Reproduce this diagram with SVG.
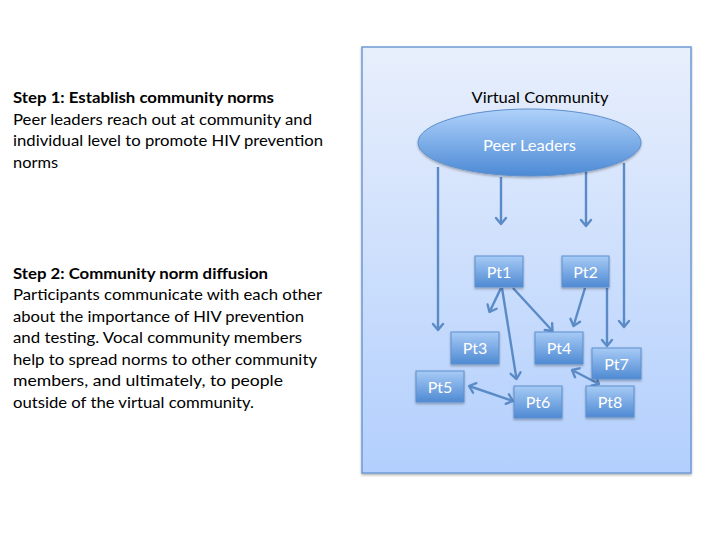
<svg xmlns="http://www.w3.org/2000/svg" width="720" height="540" viewBox="0 0 720 540">
<defs>
<linearGradient id="bg" x1="0" y1="0" x2="0" y2="1">
<stop offset="0" stop-color="#e8effc"/>
<stop offset="1" stop-color="#b2cffd"/>
</linearGradient>
<linearGradient id="nodeg" x1="0" y1="0" x2="0" y2="1">
<stop offset="0" stop-color="#a7cbf6"/>
<stop offset="1" stop-color="#4f8ad3"/>
</linearGradient>
<linearGradient id="ellg" x1="0" y1="0" x2="0" y2="1">
<stop offset="0" stop-color="#b0d2fb"/>
<stop offset="1" stop-color="#4c8ad5"/>
</linearGradient>
<filter id="sh" x="-10%" y="-10%" width="130%" height="140%">
<feDropShadow dx="0" dy="1.5" stdDeviation="1.2" flood-color="#000" flood-opacity="0.3"/>
</filter>
<marker id="ah" viewBox="-8 -7 10 14" refX="0" refY="0" markerWidth="10" markerHeight="14" markerUnits="userSpaceOnUse" orient="auto-start-reverse">
<path d="M-6,-5 L0,0 L-6,5" fill="none" stroke="#5b8bc7" stroke-width="2.4" stroke-linecap="round" stroke-linejoin="round"/>
</marker>
</defs>
<style>
.lt{font-family:Lato,"Liberation Sans",sans-serif;font-size:16px;fill:#000}
.b{font-weight:bold}
.nd{fill:url(#nodeg);stroke:#5d8fcd;stroke-width:1;filter:url(#sh)}
.nt{font-family:Lato,"Liberation Sans",sans-serif;font-size:16px;fill:#fff;text-anchor:middle}
.cn{stroke:#5b8bc7;stroke-width:2.4;fill:none;marker-end:url(#ah)}
.cb{marker-start:url(#ah)}
</style>
<g id="step1">
<text class="lt b" x="13" y="103" textLength="261" lengthAdjust="spacingAndGlyphs">Step 1: Establish community norms</text>
<text class="lt" x="13" y="124.5" textLength="299" lengthAdjust="spacingAndGlyphs">Peer leaders reach out at community and</text>
<text class="lt" x="13" y="146" textLength="310" lengthAdjust="spacingAndGlyphs">individual level to promote HIV prevention</text>
<text class="lt" x="13" y="167.5" textLength="45" lengthAdjust="spacingAndGlyphs">norms</text>
</g>
<g id="step2">
<text class="lt b" x="13" y="278.5" textLength="255" lengthAdjust="spacingAndGlyphs">Step 2: Community norm diffusion</text>
<text class="lt" x="13" y="300" textLength="309" lengthAdjust="spacingAndGlyphs">Participants communicate with each other</text>
<text class="lt" x="13" y="321.5" textLength="291" lengthAdjust="spacingAndGlyphs">about the importance of HIV prevention</text>
<text class="lt" x="13" y="343" textLength="289" lengthAdjust="spacingAndGlyphs">and testing. Vocal community members</text>
<text class="lt" x="13" y="364.5" textLength="304" lengthAdjust="spacingAndGlyphs">help to spread norms to other community</text>
<text class="lt" x="13" y="386" textLength="270" lengthAdjust="spacingAndGlyphs">members, and ultimately, to people</text>
<text class="lt" x="13" y="407.5" textLength="241" lengthAdjust="spacingAndGlyphs">outside of the virtual community.</text>
</g>
<g id="virtual-community">
<rect x="362" y="47" width="329" height="426" fill="url(#bg)" stroke="#6f9ad3" stroke-width="1.5" filter="url(#sh)"/>
<text class="lt" x="540" y="102.5" text-anchor="middle" textLength="137" lengthAdjust="spacingAndGlyphs">Virtual Community</text>
</g>
<g id="connectors">
<line class="cn" x1="438" y1="167" x2="438" y2="330"/>
<line class="cn" x1="501" y1="177" x2="501" y2="224"/>
<line class="cn" x1="586" y1="172" x2="586" y2="226"/>
<line class="cn" x1="624" y1="163" x2="624" y2="327"/>
<line class="cn" x1="501" y1="288" x2="489.5" y2="312"/>
<line class="cn" x1="513" y1="288" x2="552.5" y2="331"/>
<line class="cn" x1="502" y1="288" x2="516.5" y2="379"/>
<line class="cn" x1="585" y1="288" x2="573.5" y2="326"/>
<line class="cn" x1="607" y1="288" x2="607" y2="346"/>
<line class="cn cb" x1="469" y1="386" x2="513" y2="401"/>
<line class="cn cb" x1="572" y1="370" x2="599" y2="384"/>
</g>
<g id="peer-leaders">
<ellipse cx="529.5" cy="142.5" rx="111.5" ry="33.5" fill="url(#ellg)" stroke="#5d8fcd" stroke-width="1" filter="url(#sh)"/>
<text class="nt" x="529.5" y="151" textLength="93" lengthAdjust="spacingAndGlyphs">Peer Leaders</text>
</g>
<g id="pt1"><rect class="nd" x="475" y="256" width="48" height="31"/><text class="nt" x="499" y="277.5">Pt1</text></g>
<g id="pt2"><rect class="nd" x="562" y="256" width="47" height="31"/><text class="nt" x="585.5" y="277.5">Pt2</text></g>
<g id="pt3"><rect class="nd" x="451" y="332" width="48" height="32"/><text class="nt" x="475" y="354">Pt3</text></g>
<g id="pt4"><rect class="nd" x="535" y="332" width="48" height="32"/><text class="nt" x="559" y="354">Pt4</text></g>
<g id="pt7"><rect class="nd" x="592" y="348" width="49" height="31"/><text class="nt" x="616.5" y="370">Pt7</text></g>
<g id="pt5"><rect class="nd" x="416" y="371" width="48" height="31"/><text class="nt" x="440" y="392.5">Pt5</text></g>
<g id="pt6"><rect class="nd" x="514" y="386" width="48" height="32"/><text class="nt" x="538" y="408">Pt6</text></g>
<g id="pt8"><rect class="nd" x="586" y="386" width="48" height="31"/><text class="nt" x="610" y="408">Pt8</text></g>
</svg>
